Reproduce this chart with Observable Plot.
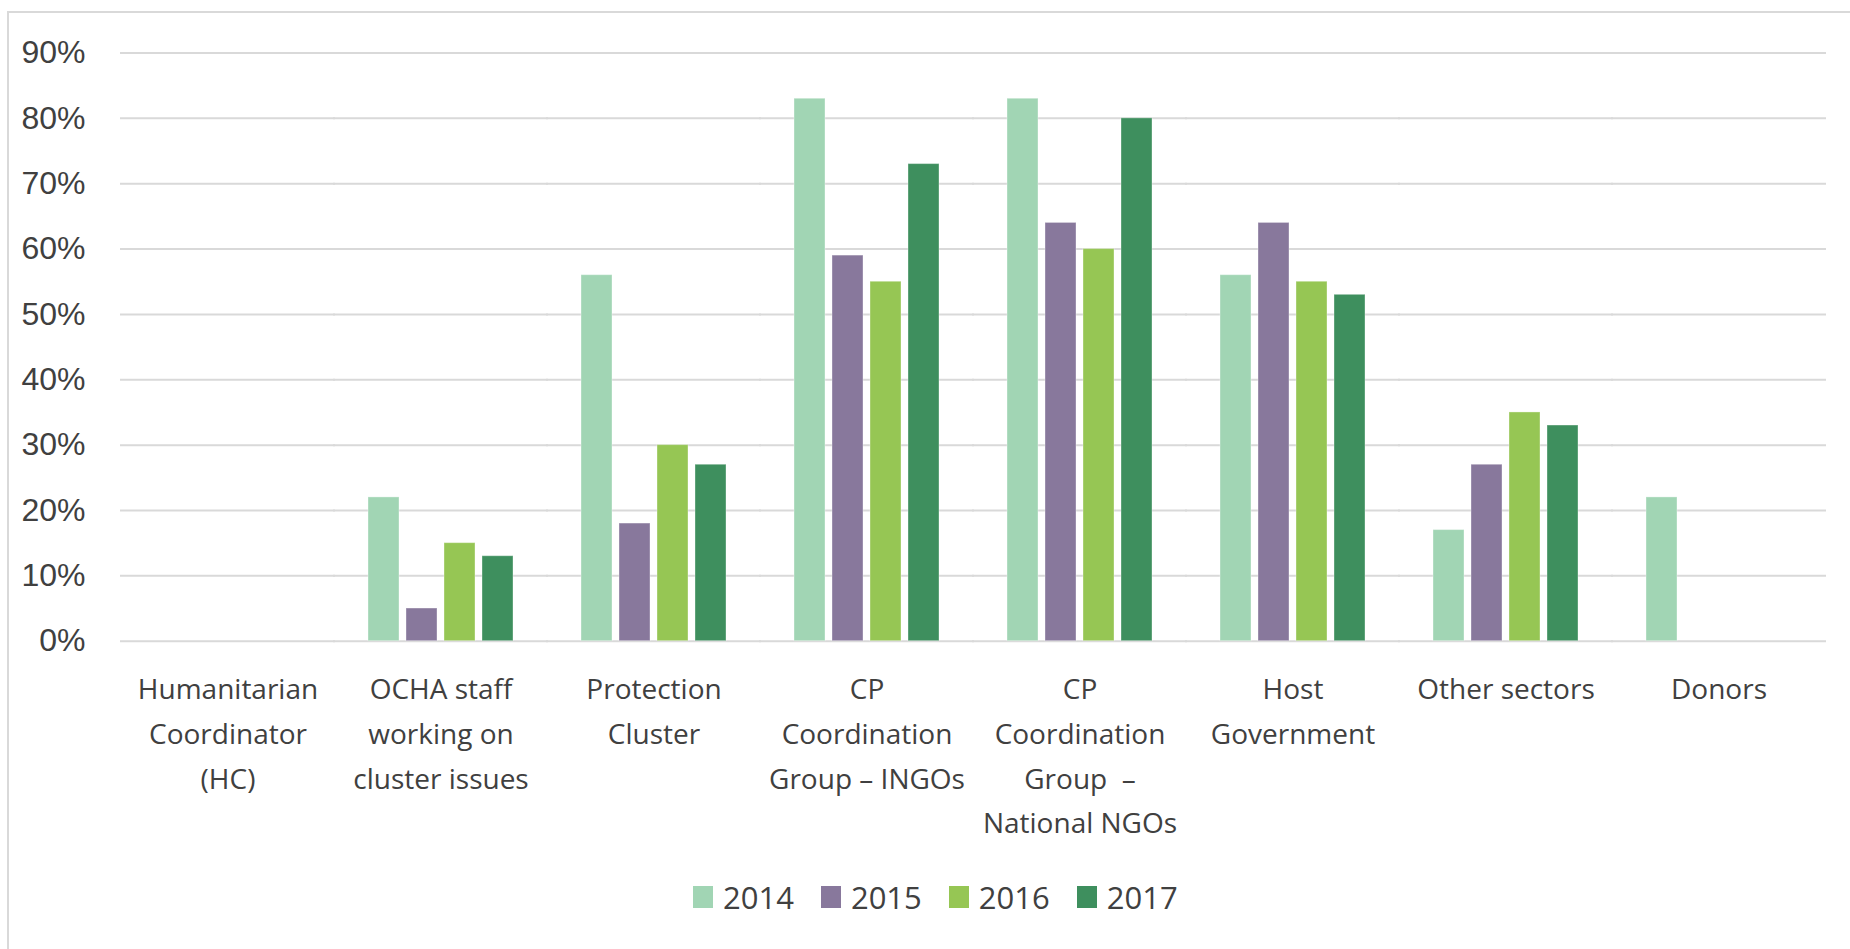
<!DOCTYPE html>
<html>
<head>
<meta charset="utf-8">
<script src="https://cdn.jsdelivr.net/npm/d3@7"></script>
<script src="https://cdn.jsdelivr.net/npm/@observablehq/plot@0.6"></script>
<style>
  html, body { margin: 0; padding: 0; background: #fff; width: 1850px; height: 949px; overflow: hidden; }
  #frame { position: absolute; left: 7px; top: 11px; width: 1900px; height: 1000px;
           border-top: 2px solid #d9d9d9; border-left: 2px solid #d9d9d9; box-sizing: border-box; }
  #chart { position: absolute; left: 0; top: 0; }
  #legend { position: absolute; left: 693px; top: 876px; display: flex; align-items: center;
            font-family: "Open Sans", sans-serif; font-size: 31px; color: #404040; }
  .item { display: flex; align-items: center; margin-right: 27px; }
  .sw { width: 20px; height: 22px; margin-right: 10px; }
</style>
</head>
<body>
<div id="frame"></div>
<div id="chart"></div>
<div id="legend"></div>
<script>
const categories = [
  "Humanitarian\nCoordinator\n(HC)",
  "OCHA staff\nworking on\ncluster issues",
  "Protection\nCluster",
  "CP\nCoordination\nGroup – INGOs",
  "CP\nCoordination\nGroup  –\nNational NGOs",
  "Host\nGovernment",
  "Other sectors",
  "Donors"
];
const years = ["2014", "2015", "2016", "2017"];
const v2014 = [null, 22, 56, 83, 83, 56, 17, 22];
const v2015 = [null, 5, 18, 59, 64, 64, 27, null];
const v2016 = [null, 15, 30, 55, 60, 55, 35, null];
const v2017 = [null, 13, 27, 73, 80, 53, 33, null];
const colors = ["#a1d5b4", "#88789c", "#96c654", "#3e8f5e"];
const yTicks = [0, 10, 20, 30, 40, 50, 60, 70, 80, 90];

const series = [v2014, v2015, v2016, v2017];
const rows = [];
categories.forEach((c, i) => {
  years.forEach((yr, k) => rows.push({category: c, year: yr, value: series[k][i]}));
});

const plot = Plot.plot({
  width: 1850,
  height: 860,
  marginLeft: 118,
  marginRight: 23,
  marginTop: 52.5,
  marginBottom: 219.3,
  style: {fontFamily: "'Open Sans', sans-serif", color: "#404040", background: "transparent", overflow: "visible"},
  fx: {domain: categories, paddingInner: 0.283, paddingOuter: 0.1415, label: null},
  x: {domain: years, paddingInner: 0.19, paddingOuter: 0.095, axis: null},
  y: {domain: [0, 90], label: null},
  color: {domain: years, range: colors},
  marks: [
    Plot.ruleY(yTicks, {stroke: "#d9d9d9", strokeWidth: 2, insetLeft: -31, insetRight: -31}),
    Plot.barY(rows, {fx: "category", x: "year", y: "value", fill: "year", stroke: "#ffffff", strokeOpacity: 0.35, strokeWidth: 1}),
    Plot.axisY(yTicks, {tickSize: 0, tickPadding: 66, tickFormat: d => d + "%", fontSize: 32,
      fontFamily: "'Liberation Sans', Arial, sans-serif", label: null}),
    Plot.axisFx({anchor: "bottom", tickSize: 0, tickPadding: 26, fontSize: 28, lineHeight: 1.6, label: null})
  ]
});
document.getElementById("chart").appendChild(plot);

const legend = d3.select("#legend");
years.forEach((yr, k) => {
  const it = legend.append("div").attr("class", "item");
  it.append("div").attr("class", "sw").style("background", colors[k]);
  it.append("span").text(yr);
});
</script>
</body>
</html>
